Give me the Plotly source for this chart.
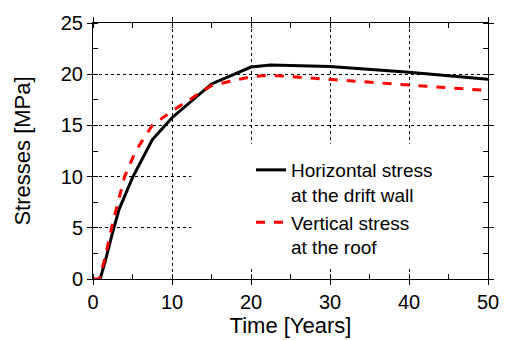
import plotly.graph_objects as go

# Horizontal stress at the drift wall
h_time = [0, 0.9, 1.5, 2.5, 3.3, 5, 7.5, 10, 15, 20, 22.5, 30, 40, 50]
h_stress = [None, 0, 1.6, 4.6, 6.8, 9.9, 13.6, 15.75, 19.05, 20.7, 20.9, 20.75, 20.2, 19.5]
# Vertical stress at the roof
v_time = [0, 0.8, 1.5, 2.5, 4.0, 5.4, 7.5, 10, 15, 20, 22.5, 30, 40, 50]
v_stress = [0, 0, 2.0, 5.5, 10.0, 12.5, 15.0, 16.4, 18.9, 19.75, 19.9, 19.5, 18.96, 18.4]

h_name = "Horizontal stress<br>at the drift wall"
v_name = "Vertical stress<br>at the roof"

fig = go.Figure()
fig.add_trace(go.Scatter(x=h_time, y=h_stress, mode="lines", name=h_name,
                         line=dict(color="black", width=3), connectgaps=False))
fig.add_trace(go.Scatter(x=v_time, y=v_stress, mode="lines", name=v_name,
                         line=dict(color="#ff0000", width=3, dash="dash")))

font = "Liberation Sans, Arial, sans-serif"
axis_common = dict(
    showline=True, linecolor="black", linewidth=1, mirror="ticks",
    ticks="outside", ticklen=5, tickcolor="black", tickwidth=1,
    showgrid=True, gridcolor="black", gridwidth=1, griddash="dot",
    zeroline=False, tickfont=dict(family=font, size=20, color="black"),
)
fig.update_xaxes(range=[0, 50], dtick=10, title=dict(text="Time [Years]", standoff=0,
                 font=dict(family=font, size=22, color="black")),
                 minor=dict(dtick=5, ticks="inside", ticklen=5, tickcolor="black", showgrid=False),
                 **axis_common)
fig.update_yaxes(range=[0, 25], dtick=5, title=dict(text="Stresses [MPa]", standoff=24,
                 font=dict(family=font, size=22, color="black")),
                 minor=dict(dtick=2.5, ticks="inside", ticklen=5, tickcolor="black", showgrid=False),
                 **axis_common)

# white legend panel hiding the grid behind the legend (no data passes through it)
fig.add_shape(type="rect", xref="x", yref="y",
              x0=12.44, x1=49.0, y0=1.13, y1=13.2,
              fillcolor="white", line=dict(width=0), layer="above")

fig.update_layout(
    width=511, height=340,
    margin=dict(l=93, r=16, t=17, b=58),
    paper_bgcolor="white", plot_bgcolor="white",
    font=dict(family=font, color="black"),
    legend=dict(x=0.40, y=0.50, xanchor="left", yanchor="top", valign="top",
                bgcolor="rgba(0,0,0,0)", borderwidth=0,
                font=dict(family=font, size=19, color="black")),
)

fig.write_html("out.html")
